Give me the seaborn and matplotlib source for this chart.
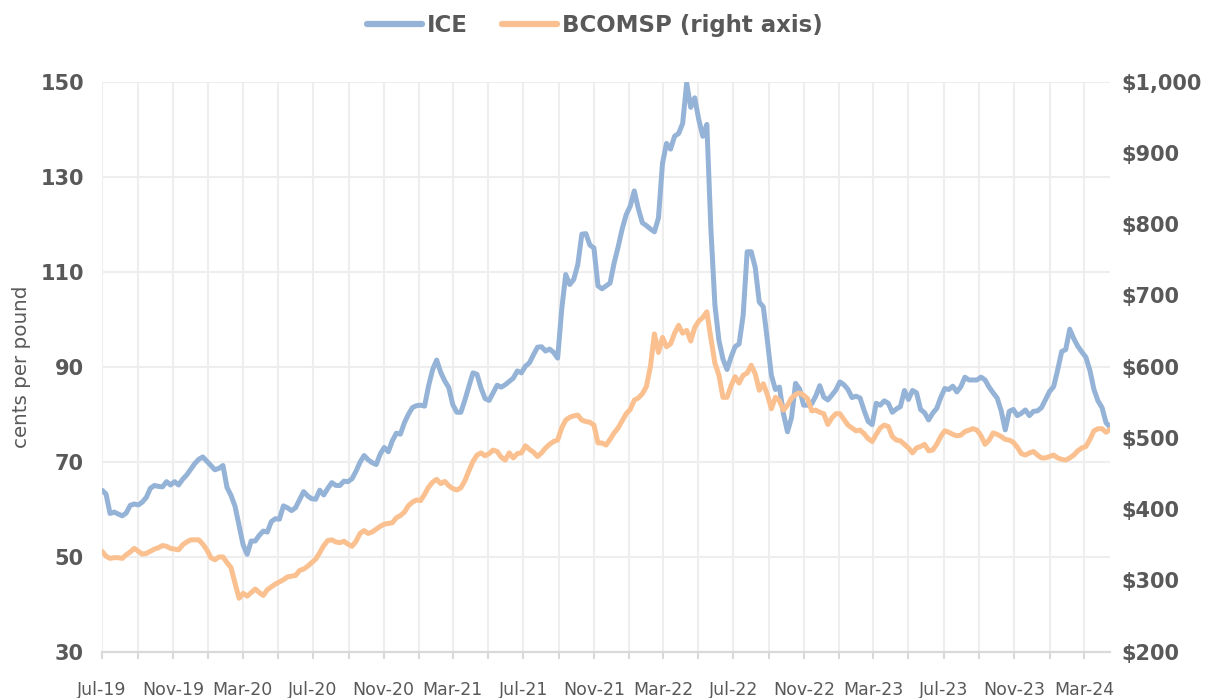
import numpy as np
import pandas as pd
import matplotlib
matplotlib.use("Agg")
import matplotlib.pyplot as plt
import matplotlib.ticker as mticker
import seaborn as sns

# weekly observations, Jul-2019 .. Apr-2024
start_date = "2019-07-05"

ice = [
    64.0, 63.2, 59.1, 59.4, 59.0, 58.6, 59.2, 60.8, 61.1, 60.9,
    61.5, 62.5, 64.4, 65.0, 64.8, 64.7, 65.8, 65.1, 65.8, 65.1,
    66.3, 67.2, 68.4, 69.6, 70.5, 71.0, 70.1, 69.2, 68.3, 68.6,
    69.2, 64.6, 62.9, 60.6, 56.5, 52.5, 50.5, 53.3, 53.3, 54.5,
    55.4, 55.2, 57.4, 58.0, 57.9, 60.7, 60.3, 59.7, 60.3, 62.0,
    63.7, 62.8, 62.2, 62.1, 64.0, 63.0, 64.4, 65.6, 65.0, 65.0,
    65.9, 65.8, 66.4, 68.0, 69.9, 71.3, 70.4, 69.8, 69.4, 71.6,
    73.0, 72.1, 74.4, 76.0, 75.8, 78.2, 80.0, 81.4, 81.8, 81.9,
    81.7, 86.0, 89.4, 91.4, 88.8, 87.0, 85.6, 82.0, 80.4, 80.4,
    83.0, 85.9, 88.7, 88.4, 85.5, 83.3, 82.9, 84.5, 86.1, 85.7,
    86.2, 86.9, 87.6, 89.1, 88.7, 90.1, 90.8, 92.5, 94.1, 94.2,
    93.3, 93.7, 93.0, 91.8, 102.0, 109.4, 107.3, 108.4, 111.5, 117.9,
    118.0, 115.6, 115.0, 107.0, 106.4, 107.0, 107.6, 111.8, 115.2, 119.0,
    122.0, 123.8, 127.0, 123.3, 120.3, 119.7, 119.0, 118.4, 121.3, 132.8,
    137.0, 135.8, 138.5, 139.1, 141.2, 149.7, 144.6, 146.6, 142.0, 138.5,
    141.0, 119.0, 103.0, 95.5, 91.6, 89.4, 92.0, 94.2, 94.8, 100.8,
    114.2, 114.2, 110.9, 103.6, 102.6, 95.6, 88.2, 85.2, 85.7, 80.1,
    76.3, 79.3, 86.5, 85.3, 81.9, 81.9, 82.2, 83.8, 86.0, 83.6,
    83.0, 84.0, 85.1, 86.8, 86.2, 85.2, 83.5, 83.8, 83.4, 80.8,
    78.5, 77.8, 82.3, 81.9, 82.8, 82.3, 80.4, 81.1, 81.6, 85.0,
    83.1, 85.0, 84.5, 81.0, 80.3, 78.8, 80.2, 81.2, 83.5, 85.4,
    85.2, 85.9, 84.7, 85.8, 87.8, 87.2, 87.2, 87.2, 87.8, 87.2,
    85.7, 84.5, 83.4, 80.7, 76.7, 80.6, 81.0, 79.7, 80.2, 80.9,
    79.7, 80.6, 80.7, 81.4, 83.1, 84.8, 85.8, 89.3, 93.2, 93.6,
    97.9, 95.9, 94.3, 93.1, 92.0, 89.2, 85.2, 82.8, 81.4, 78.2,
    77.3,
]

bcomsp = [
    341, 334, 331, 332, 332, 331, 336, 340, 345, 341,
    337, 338, 341, 344, 346, 349, 348, 345, 344, 343,
    350, 354, 357, 357, 357, 351, 343, 332, 329, 333,
    333, 325, 318, 296, 275, 282, 278, 283, 288, 283,
    279, 287, 291, 295, 298, 301, 305, 306, 307, 314,
    316, 320, 325, 330, 339, 349, 356, 357, 354, 353,
    355, 351, 348, 355, 366, 370, 366, 368, 372, 376,
    379, 380, 381, 388, 391, 396, 405, 410, 413, 412,
    421, 431, 438, 442, 436, 439, 433, 429, 427, 430,
    440, 454, 467, 476, 479, 475, 478, 483, 481, 473,
    469, 479, 472, 478, 479, 489, 484, 480, 474, 479,
    486, 491, 495, 497, 514, 525, 529, 531, 532, 525,
    523, 522, 518, 493, 493, 490, 498, 507, 514, 524,
    534, 540, 553, 556, 562, 572, 600, 646, 620, 641,
    628, 632, 647, 658, 647, 651, 636, 655, 664, 669,
    677, 640, 605, 588, 557, 557, 573, 586, 577, 588,
    591, 602, 590, 567, 576, 561, 541, 557, 552, 539,
    546, 556, 561, 563, 560, 555, 538, 539, 536, 534,
    519, 528, 534, 534, 526, 518, 514, 510, 511, 506,
    499, 495, 505, 514, 518, 516, 502, 497, 496, 491,
    486, 479, 486, 488, 491, 482, 483, 491, 502, 510,
    508, 505, 503, 504, 509, 511, 513, 511, 503, 491,
    497, 507, 505, 502, 498, 497, 494, 487, 478, 476,
    479, 481, 476, 472, 472, 474, 476, 472, 470, 469,
    472, 476, 482, 486, 488, 498, 510, 513, 513, 508,
    512,
]

left_ticks = [30, 50, 70, 90, 110, 130, 150]
right_ticks = [200, 300, 400, 500, 600, 700, 800, 900, 1000]

dates = pd.date_range(start_date, periods=len(ice), freq="7D")
df = pd.DataFrame({"date": dates, "ICE": ice, "BCOMSP": bcomsp})

BLUE = "#95B3D7"
ORANGE = "#FAC090"
GREY = "#595959"

sns.set_theme(style="white")
plt.rcParams["font.family"] = ["DejaVu Sans"]

fig = plt.figure(figsize=(12.07, 6.98), dpi=100)
ax = fig.add_axes([0.0845, 0.0663, 0.8352, 0.8167])
ax2 = ax.twinx()

sns.lineplot(data=df, x="date", y="ICE", ax=ax, color=BLUE,
             linewidth=3.6, legend=False, solid_joinstyle="round")
sns.lineplot(data=df, x="date", y="BCOMSP", ax=ax2, color=ORANGE,
             linewidth=3.6, legend=False, solid_joinstyle="round")

# axes ranges
ax.set_xlim(dates[0], dates[-1])
ax.set_ylim(30, 150)
ax2.set_ylim(200, 1000)

# x ticks every 2 months, labels every 4
tick_dates = pd.date_range(start_date, dates[-1], freq=pd.DateOffset(months=2))
ax.set_xticks(tick_dates)
ax.set_xticklabels([d.strftime("%b-%y") if i % 2 == 0 else ""
                    for i, d in enumerate(tick_dates)])
ax.tick_params(axis="x", length=5, width=1.5, color="#D9D9D9", pad=16,
               labelsize=12.5, labelcolor=GREY, bottom=True)

ax.set_yticks(left_ticks)
ax.tick_params(axis="y", length=0, pad=13, labelsize=15, labelcolor=GREY)
for lbl in ax.get_yticklabels():
    lbl.set_fontweight("bold")

ax2.set_yticks(right_ticks)
ax2.yaxis.set_major_formatter(mticker.FuncFormatter(lambda v, p: f"${v:,.0f}"))
ax2.tick_params(axis="y", length=0, pad=8, labelsize=15, labelcolor=GREY)
for lbl in ax2.get_yticklabels():
    lbl.set_fontweight("bold")

ax.grid(True, color="#EEEEEE", linewidth=1.5)
ax2.grid(False)
ax.set_axisbelow(True)

for a in (ax, ax2):
    for side in ("top", "left", "right"):
        a.spines[side].set_visible(False)
    a.spines["bottom"].set_color("#D9D9D9")
    a.spines["bottom"].set_linewidth(1.5)
    a.set_xlabel("")

ax.set_ylabel("cents per pound", fontsize=14.3, color=GREY, labelpad=7)
ax2.set_ylabel("")

handles = [plt.Line2D([], [], color=BLUE, linewidth=4.5, solid_capstyle="round"),
           plt.Line2D([], [], color=ORANGE, linewidth=4.5, solid_capstyle="round")]
leg = fig.legend(handles, ["ICE", "BCOMSP (right axis)"], loc="center",
                 bbox_to_anchor=(0.493, 0.964), ncol=2, frameon=False,
                 handlelength=2.4, handletextpad=0.2, columnspacing=1.5,
                 prop={"size": 16.5, "weight": "bold"})
for t in leg.get_texts():
    t.set_color(GREY)

fig.savefig("out.png", dpi=100)
